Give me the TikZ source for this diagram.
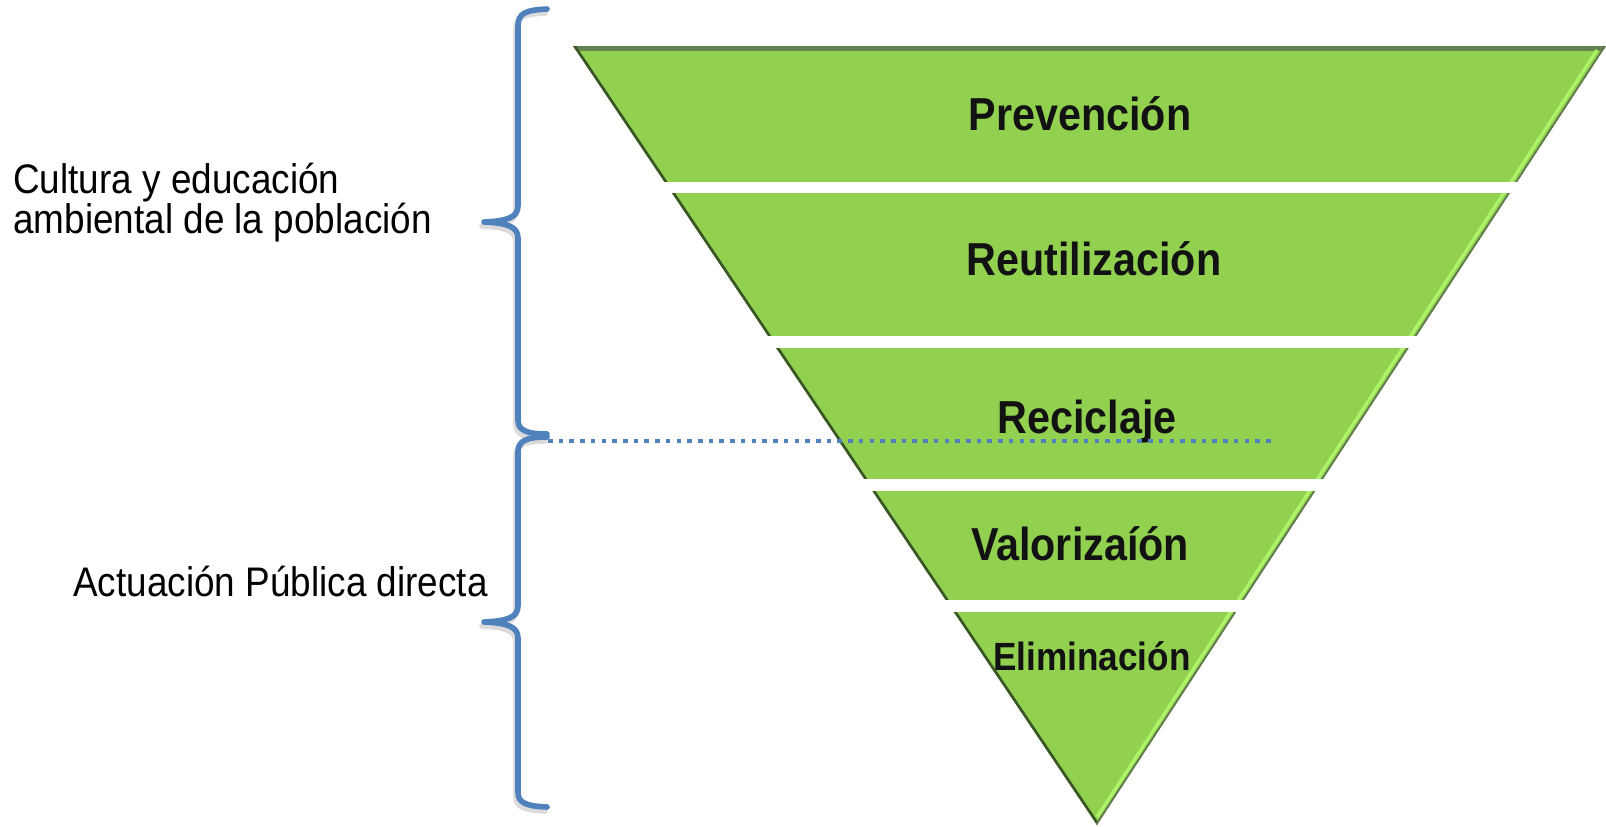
\documentclass[tikz,border=0pt]{standalone}
\usepackage{fontspec}
\setmainfont{Liberation Sans}
\usepackage{tikz}

\definecolor{tgreen}{RGB}{146,208,80}
\definecolor{tdark}{RGB}{58,86,38}
\definecolor{ttop}{RGB}{98,130,80}
\definecolor{tlight}{RGB}{174,244,104}
\definecolor{bblue}{RGB}{79,129,189}
\newcommand{\vst}[1]{\scalebox{1}[1.12]{#1}}

\begin{document}
\begin{tikzpicture}[x=0.02cm, y=-0.02cm,
    level/.style={font=\bfseries\fontsize{23.5}{28}\selectfont, text=black!93, inner sep=0pt, anchor=base},
    side/.style={font=\fontsize{21}{17.8}\selectfont, inner sep=0pt, anchor=base west},
    bracket/.style={line width=3.2pt, line cap=round, line join=round}]
    \useasboundingbox (0,0) rectangle (1606,826);

    % inverted pyramid
    \coordinate (tl) at (573,46);
    \coordinate (tr) at (1606,46);
    \coordinate (apex) at (1097,825);
    \fill[tgreen] (tl) -- (tr) -- (apex) -- cycle;
    \begin{scope}
        \clip (tl) -- (tr) -- (apex) -- cycle;
        \draw[ttop, line width=5.5pt] (tl) -- (tr);
        \draw[tdark, line width=3pt] (tl) -- (apex);
        \draw[tdark!80, line width=2pt] (tr) -- (apex);
        \draw[tlight, line width=1.8pt] (1597,50) -- (1097,817);
    \end{scope}

    % gaps between the levels
    \foreach \xa/\ya/\xb/\yb in {655/182/1525/193, 760/336/1425/348,
        855/479/1332/491, 937/600/1253/612}
        \fill[white] (\xa,\ya) rectangle (\xb,\yb);

    % levels
    \foreach \n/\x/\y/\t in {prevencion/1080/130/Prevención,
        reutilizacion/1094/275/Reutilización, reciclaje/1087/433/Reciclaje,
        valorizacion/1080/560/Valorizaíón}
        \node[level] (\n) at (\x,\y) {\vst{\t}};
    \node[level, font=\bfseries\fontsize{20}{24}\selectfont] (eliminacion) at (1092,670) {\vst{Eliminación}};

    % braces
    \foreach \dx/\dy/\c in {-2/4/black!14, 0/0/bblue} {
    \draw[bracket, draw=\c, xshift=\dx*0.02cm, yshift=-\dy*0.02cm]
        (547,9) .. controls (526,10) and (518,13) .. (518,26) -- (518,206)
        .. controls (518,217) and (508,221) .. (484,222)
        .. controls (508,223) and (518,227) .. (518,238) -- (518,420)
        .. controls (518,430) and (526,434) .. (547,434);
    \draw[bracket, draw=\c, xshift=\dx*0.02cm, yshift=-\dy*0.02cm]
        (547,437) .. controls (526,437) and (518,441) .. (518,452) -- (518,606)
        .. controls (518,617) and (508,621) .. (484,622)
        .. controls (508,623) and (518,627) .. (518,638) -- (518,792)
        .. controls (518,803) and (526,806) .. (547,807);
    }

    % split line
    \coordinate (splitL) at (548,441);
    \coordinate (splitR) at (1272,441);
    \draw[bblue, line width=2.6pt, dash pattern=on 2.6pt off 3.5pt] (splitL) -- (splitR);

    % side texts
    \node[side] (cultura) at (13,193) {\vst{\begin{tabular}[t]{@{}l@{}}Cultura y educación\\ambiental de la población\end{tabular}}};
    \node[side] (actuacion) at (73,596) {\vst{Actuación Pública directa}};
\end{tikzpicture}
\end{document}
